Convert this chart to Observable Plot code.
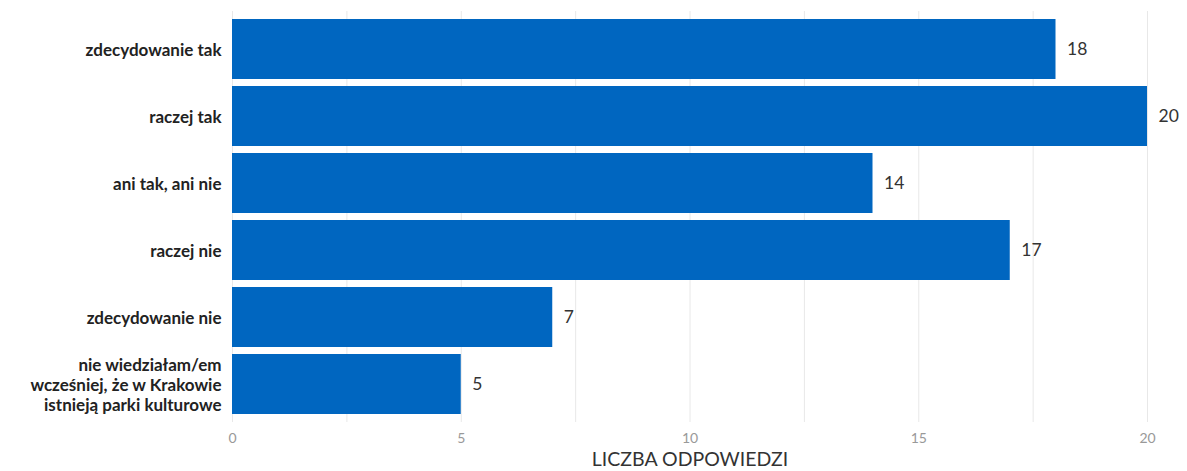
<!DOCTYPE html>
<html>
<head>
<meta charset="utf-8">
<script src="https://cdn.jsdelivr.net/npm/d3@7"></script>
<script src="https://cdn.jsdelivr.net/npm/@observablehq/plot@0.6"></script>
<style>
  html, body { margin: 0; padding: 0; background: #fff; }
  #chart svg { display: block; }
</style>
</head>
<body>
<div id="chart"></div>
<script>
const categories = [
  "zdecydowanie tak",
  "raczej tak",
  "ani tak, ani nie",
  "raczej nie",
  "zdecydowanie nie",
  "nie wiedziałam/em\nwcześniej, że w Krakowie\nistnieją parki kulturowe"
];
const values = [18, 20, 14, 17, 7, 5];
const xTicks = [0, 5, 10, 15, 20];
const gridTicks = [0, 2.5, 5, 7.5, 10, 12.5, 15, 17.5, 20];
const xLabel = "LICZBA ODPOWIEDZI";

const data = categories.map((c, i) => ({category: c, value: values[i]}));

const chart = Plot.plot({
  width: 1187,
  height: 471,
  marginLeft: 232,
  marginRight: 40,
  marginTop: 11,
  marginBottom: 49,
  style: {fontFamily: "Lato, sans-serif", background: "#fff"},
  x: {domain: [0, 20]},
  y: {domain: categories, padding: 0.1, axis: null},
  marks: [
    Plot.gridX(gridTicks, {stroke: "#e8e8e8", strokeOpacity: 1}),
    Plot.barX(data, {x: "value", y: "category", fill: "#0066c0"}),
    Plot.text(data, {x: "value", y: "category", text: d => String(d.value), textAnchor: "start", dx: 11, fontSize: 17.5, fill: "#333"}),
    Plot.text(data, {x: () => 0, y: "category", text: "category", textAnchor: "end", dx: -11, fontSize: 17, fontWeight: "bold", fill: "#222", lineHeight: 1.16}),
    Plot.axisX(xTicks, {tickSize: 0, tickPadding: 11, fontSize: 14, color: "#999", label: null}),
    Plot.text([xLabel], {frameAnchor: "bottom", dy: 43, fontSize: 19.5, fill: "#333", text: d => d})
  ]
});
document.getElementById("chart").appendChild(chart);
</script>
</body>
</html>
